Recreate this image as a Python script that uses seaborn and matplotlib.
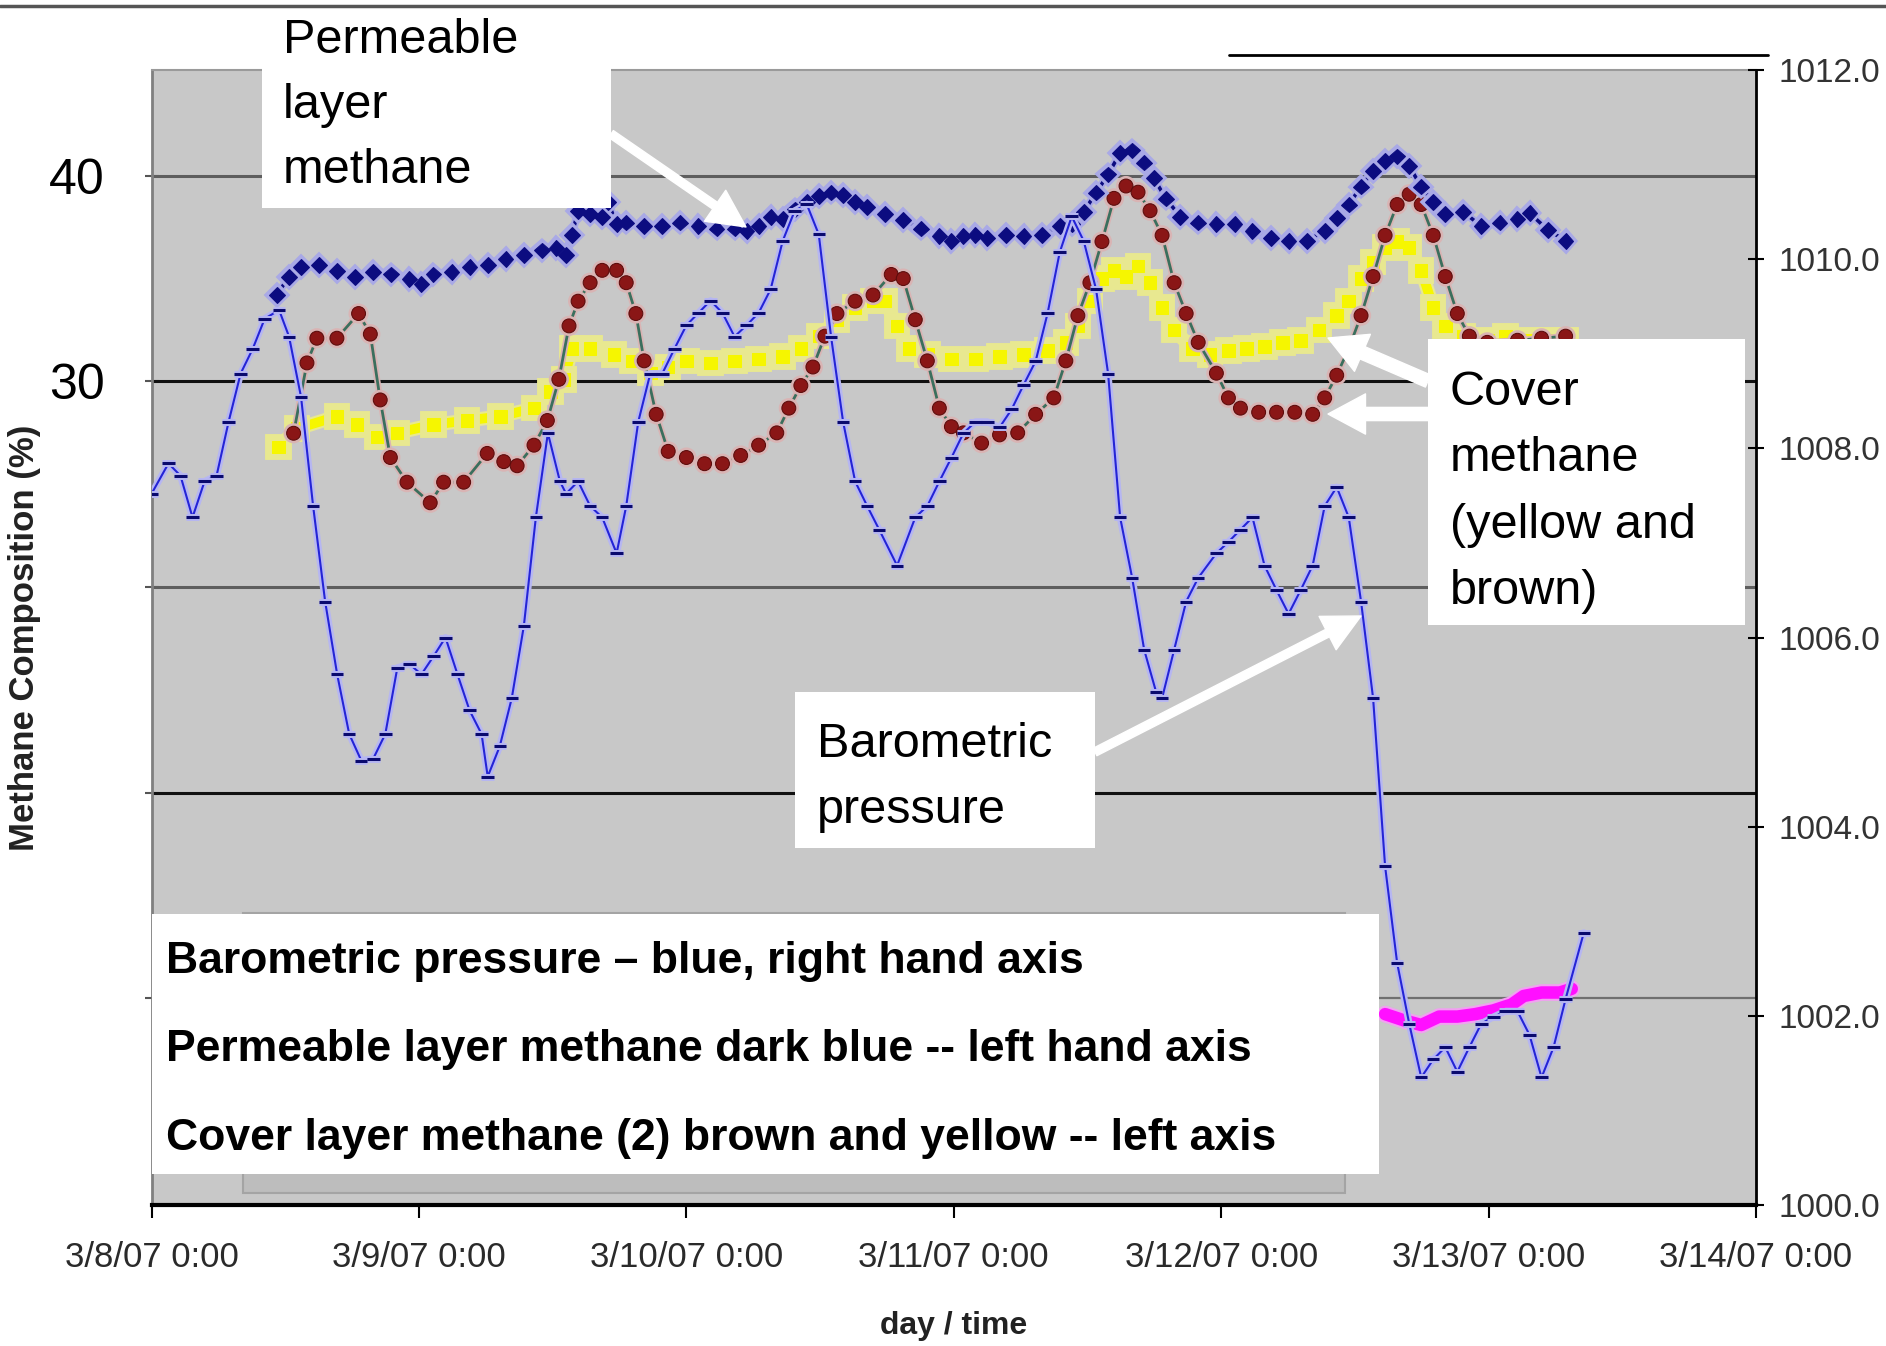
import matplotlib
matplotlib.use('Agg')
import matplotlib.pyplot as plt
import matplotlib.patheffects as pe
from matplotlib.patches import Rectangle, FancyArrowPatch
from matplotlib.lines import Line2D
import pandas as pd
import seaborn as sns

# ---------------- data (day offset from 3/8/07 0:00, value) ----------------
xtick_days = [0, 1, 2, 3, 4, 5, 6]
xtick_labels = ["3/8/07 0:00", "3/9/07 0:00", "3/10/07 0:00", "3/11/07 0:00",
                "3/12/07 0:00", "3/13/07 0:00", "3/14/07 0:00"]
left_ticks = [0, 10, 20, 30, 40]
left_labels = ["", "", "", "30", "40"]
right_ticks = [1000, 1002, 1004, 1006, 1008, 1010, 1012]
right_labels = ["1000.0", "1002.0", "1004.0", "1006.0", "1008.0", "1010.0", "1012.0"]

# Barometric pressure (hPa, right axis)
baro = [(0.000, 1007.52), (0.063, 1007.84), (0.108, 1007.71), (0.153, 1007.27), (0.198, 1007.65),
        (0.243, 1007.71), (0.288, 1008.28), (0.333, 1008.79), (0.378, 1009.05), (0.423, 1009.37),
        (0.477, 1009.46), (0.514, 1009.18), (0.559, 1008.54), (0.604, 1007.39), (0.649, 1006.38),
        (0.694, 1005.61), (0.739, 1004.98), (0.784, 1004.70), (0.829, 1004.72), (0.874, 1004.98),
        (0.919, 1005.68), (0.964, 1005.72), (1.009, 1005.61), (1.054, 1005.80), (1.099, 1006.00),
        (1.144, 1005.61), (1.189, 1005.23), (1.234, 1004.98), (1.257, 1004.53), (1.302, 1004.85),
        (1.347, 1005.36), (1.392, 1006.12), (1.437, 1007.27), (1.482, 1008.16), (1.527, 1007.65),
        (1.550, 1007.52), (1.595, 1007.65), (1.640, 1007.39), (1.685, 1007.27), (1.739, 1006.89),
        (1.775, 1007.39), (1.820, 1008.28), (1.865, 1008.79), (1.910, 1008.79), (1.955, 1009.05),
        (2.000, 1009.30), (2.045, 1009.43), (2.090, 1009.56), (2.135, 1009.43), (2.180, 1009.18),
        (2.225, 1009.30), (2.270, 1009.43), (2.315, 1009.68), (2.360, 1010.19), (2.405, 1010.51),
        (2.450, 1010.58), (2.495, 1010.26), (2.541, 1009.18), (2.586, 1008.28), (2.631, 1007.65),
        (2.676, 1007.39), (2.721, 1007.14), (2.788, 1006.76), (2.856, 1007.27), (2.901, 1007.39),
        (2.946, 1007.65), (2.991, 1007.90), (3.036, 1008.16), (3.081, 1008.28), (3.126, 1008.28),
        (3.171, 1008.22), (3.216, 1008.41), (3.261, 1008.67), (3.306, 1008.92), (3.351, 1009.43),
        (3.396, 1010.07), (3.441, 1010.45), (3.486, 1010.19), (3.532, 1009.68), (3.577, 1008.79),
        (3.622, 1007.27), (3.667, 1006.63), (3.712, 1005.87), (3.757, 1005.42), (3.779, 1005.36),
        (3.824, 1005.87), (3.869, 1006.38), (3.914, 1006.63), (3.982, 1006.89), (4.027, 1007.01),
        (4.072, 1007.14), (4.117, 1007.27), (4.162, 1006.76), (4.207, 1006.50), (4.252, 1006.25),
        (4.297, 1006.50), (4.342, 1006.76), (4.387, 1007.39), (4.432, 1007.59), (4.477, 1007.27),
        (4.523, 1006.38), (4.568, 1005.36), (4.613, 1003.58), (4.658, 1002.56), (4.703, 1001.92),
        (4.748, 1001.35), (4.793, 1001.54), (4.838, 1001.67), (4.883, 1001.41), (4.928, 1001.67),
        (4.973, 1001.92), (5.018, 1001.99), (5.063, 1002.05), (5.108, 1002.05), (5.153, 1001.80),
        (5.198, 1001.35), (5.243, 1001.67), (5.288, 1002.18), (5.356, 1002.88)]

# Permeable layer methane (%, left axis, dark blue)
permeable = [(0.468, 34.21), (0.514, 35.09), (0.559, 35.56), (0.626, 35.67), (0.694, 35.38),
             (0.761, 35.09), (0.829, 35.32), (0.896, 35.20), (0.964, 34.97), (1.009, 34.74),
             (1.054, 35.20), (1.122, 35.32), (1.189, 35.56), (1.257, 35.67), (1.324, 35.96),
             (1.392, 36.14), (1.459, 36.37), (1.514, 36.49), (1.550, 36.14), (1.572, 37.13),
             (1.595, 38.30), (1.640, 38.13), (1.685, 38.01), (1.707, 38.71), (1.739, 37.66),
             (1.775, 37.72), (1.842, 37.54), (1.910, 37.54), (1.977, 37.72), (2.045, 37.54),
             (2.113, 37.43), (2.180, 37.43), (2.225, 37.31), (2.270, 37.54), (2.315, 38.01),
             (2.360, 37.89), (2.405, 38.36), (2.450, 38.71), (2.495, 39.01), (2.541, 39.18),
             (2.586, 39.06), (2.631, 38.71), (2.676, 38.48), (2.743, 38.13), (2.811, 37.84),
             (2.878, 37.43), (2.946, 37.08), (2.991, 36.84), (3.036, 37.08), (3.081, 37.13),
             (3.126, 36.96), (3.194, 37.13), (3.261, 37.08), (3.329, 37.13), (3.396, 37.54),
             (3.441, 37.66), (3.486, 38.25), (3.532, 39.18), (3.577, 40.06), (3.622, 41.11),
             (3.667, 41.23), (3.712, 40.64), (3.748, 39.88), (3.793, 38.89), (3.847, 38.01),
             (3.914, 37.72), (3.982, 37.66), (4.050, 37.66), (4.117, 37.31), (4.185, 36.96),
             (4.252, 36.84), (4.320, 36.84), (4.387, 37.31), (4.432, 37.95), (4.477, 38.60),
             (4.523, 39.47), (4.568, 40.23), (4.613, 40.70), (4.658, 40.94), (4.703, 40.47),
             (4.748, 39.47), (4.793, 38.71), (4.838, 38.13), (4.905, 38.25), (4.973, 37.54),
             (5.041, 37.72), (5.108, 37.89), (5.153, 38.19), (5.221, 37.37), (5.288, 36.84)]

# Cover methane, brown series (%, left axis)
cover_brown = [(0.531, 27.48), (0.581, 30.90), (0.618, 32.10), (0.693, 32.10), (0.774, 33.30),
               (0.818, 32.30), (0.855, 29.10), (0.893, 26.30), (0.955, 25.10), (1.042, 24.10),
               (1.092, 25.10), (1.167, 25.10), (1.255, 26.50), (1.317, 26.10), (1.367, 25.90),
               (1.430, 26.90), (1.480, 28.10), (1.523, 30.10), (1.561, 32.70), (1.595, 33.90),
               (1.640, 34.80), (1.685, 35.40), (1.739, 35.40), (1.775, 34.80), (1.811, 33.30),
               (1.842, 31.00), (1.887, 28.40), (1.932, 26.60), (2.000, 26.30), (2.068, 26.00),
               (2.135, 26.00), (2.203, 26.40), (2.270, 26.90), (2.338, 27.50), (2.383, 28.70),
               (2.428, 29.80), (2.473, 30.70), (2.518, 32.20), (2.563, 33.30), (2.631, 33.90),
               (2.698, 34.20), (2.766, 35.20), (2.811, 35.00), (2.856, 33.00), (2.901, 31.00),
               (2.946, 28.70), (2.991, 27.80), (3.036, 27.50), (3.104, 27.00), (3.171, 27.40),
               (3.239, 27.50), (3.306, 28.40), (3.374, 29.20), (3.419, 31.00), (3.464, 33.20),
               (3.509, 34.80), (3.554, 36.80), (3.599, 38.90), (3.644, 39.50), (3.689, 39.20),
               (3.734, 38.30), (3.779, 37.10), (3.824, 34.80), (3.869, 33.30), (3.914, 31.90),
               (3.982, 30.40), (4.027, 29.20), (4.072, 28.70), (4.140, 28.50), (4.207, 28.50),
               (4.275, 28.50), (4.342, 28.40), (4.387, 29.20), (4.432, 30.30), (4.477, 31.60),
               (4.523, 33.20), (4.568, 35.10), (4.613, 37.10), (4.658, 38.60), (4.703, 39.10),
               (4.748, 38.60), (4.793, 37.10), (4.838, 35.10), (4.883, 33.30), (4.928, 32.20),
               (4.995, 31.90), (5.108, 32.00), (5.198, 32.10), (5.288, 32.20)]

# Cover methane, yellow series (%, left axis)
cover_yellow = [(0.475, 26.80), (0.543, 27.70), (0.693, 28.30), (0.768, 27.90), (0.843, 27.30),
                (0.918, 27.50), (1.055, 27.90), (1.180, 28.10), (1.305, 28.30), (1.430, 28.70),
                (1.492, 29.50), (1.542, 30.10), (1.572, 31.60), (1.640, 31.60), (1.730, 31.30),
                (1.797, 31.00), (1.865, 30.40), (1.932, 30.70), (2.000, 31.00), (2.090, 30.90),
                (2.180, 31.00), (2.270, 31.10), (2.360, 31.20), (2.428, 31.60), (2.495, 32.20),
                (2.563, 33.00), (2.631, 33.60), (2.698, 33.90), (2.743, 33.90), (2.788, 32.70),
                (2.833, 31.60), (2.901, 31.30), (2.991, 31.10), (3.081, 31.10), (3.171, 31.20),
                (3.261, 31.30), (3.351, 31.50), (3.419, 31.90), (3.464, 32.70), (3.509, 33.90),
                (3.554, 35.00), (3.599, 35.40), (3.644, 35.10), (3.689, 35.60), (3.734, 34.80),
                (3.779, 33.60), (3.824, 32.50), (3.892, 31.60), (3.959, 31.30), (4.027, 31.50),
                (4.095, 31.60), (4.162, 31.70), (4.230, 31.90), (4.297, 32.00), (4.365, 32.50),
                (4.432, 33.20), (4.477, 33.90), (4.523, 35.00), (4.568, 35.80), (4.613, 36.50),
                (4.658, 36.80), (4.703, 36.50), (4.748, 35.40), (4.793, 33.60), (4.838, 32.70),
                (4.905, 32.20), (4.995, 32.00), (5.063, 32.20), (5.153, 32.00), (5.243, 32.00),
                (5.288, 32.00)]

# Magenta series (left axis)
magenta = [(4.613, -0.76), (4.680, -1.05), (4.748, -1.29), (4.815, -0.88), (4.883, -0.88),
           (4.950, -0.76), (5.018, -0.58), (5.086, -0.29), (5.131, 0.12), (5.198, 0.29),
           (5.266, 0.29), (5.311, 0.47)]


def frame(pairs):
    return pd.DataFrame(pairs, columns=["day", "value"])


# ---------------- style ----------------
sns.set_theme(style="white")
plt.rcParams['font.family'] = ['Liberation Sans', 'DejaVu Sans']

W, H = 1886, 1346
fig = plt.figure(figsize=(W / 100, H / 100), dpi=100, facecolor='white')


def fx(x):
    return x / W


def fy(y):
    return 1 - y / H


L, R, T, B = 151.6, 1756.0, 69.8, 1205.2
ax = fig.add_axes([fx(L), fy(B), (R - L) / W, (B - T) / H])
ax.set_facecolor('#c8c8c8')
ax2 = ax.twinx()

# horizontal gridlines (left axis units)
for yv, col, lw in [(40, '#5e5e5e', 2.2), (30, '#111111', 2.2), (20, '#5e5e5e', 2.2),
                    (10, '#111111', 2.2), (0, '#707070', 1.6)]:
    ax.axhline(yv, color=col, lw=lw, zorder=1)

# series
df = frame(cover_yellow)
sns.lineplot(data=df, x="day", y="value", ax=ax, color='#f6f600', linewidth=7,
             marker='s', markersize=9, markeredgecolor='#f6f600',
             path_effects=[pe.Stroke(linewidth=10, foreground='#e8e890'), pe.Normal()], zorder=3)

df = frame(cover_brown)
sns.lineplot(data=df, x="day", y="value", ax=ax, color='#3b6f5d', linewidth=2,
             marker='o', markersize=10, markerfacecolor='#8a1616', markeredgecolor='#5c0c0c',
             path_effects=[pe.Stroke(linewidth=4.5, foreground='#d9b4b4'), pe.Normal()], zorder=4)

df = frame(permeable)
sns.lineplot(data=df, x="day", y="value", ax=ax, color='#0c0c80', linewidth=2.6,
             marker='D', markersize=8, markeredgecolor='#0c0c80',
             path_effects=[pe.Stroke(linewidth=5.5, foreground='#a9a9e6'), pe.Normal()], zorder=5)

df = frame(magenta)
sns.lineplot(data=df, x="day", y="value", ax=ax, color='#ff10ff', linewidth=9,
             path_effects=[pe.Stroke(linewidth=12, foreground='#f2a0f2'), pe.Normal()], zorder=3)

df = frame(baro)
sns.lineplot(data=df, x="day", y="value", ax=ax2, color='#2424d6', linewidth=1.5,
             marker='_', markersize=9, markeredgewidth=2.2, markeredgecolor='#0a0a6e',
             path_effects=[pe.Stroke(linewidth=5, foreground='#b6b6f2'), pe.Normal()], zorder=3)

# axes limits and ticks
ax.set_xlim(0, 6)
ax.set_ylim(-10.05, 45.15)
ax2.set_ylim(1000, 1012)
ax.set_xticks(xtick_days)
ax.set_xticklabels(xtick_labels)
ax.set_yticks(left_ticks)
ax.set_yticklabels(left_labels)
ax2.set_yticks(right_ticks)
ax2.set_yticklabels(right_labels)

ax.tick_params(axis='x', direction='out', length=9, width=1.5, color='black',
               labelsize=25, pad=17, labelcolor='#2a2a2a', bottom=True)
ax.tick_params(axis='y', direction='inout', length=10, width=1.5, color='#555555',
               labelsize=36, pad=29, labelcolor='black', left=True)
ax2.tick_params(axis='y', direction='inout', length=12, width=1.5, color='black',
                labelsize=24, pad=10, labelcolor='#333333', right=True)

for s in ['left', 'top', 'bottom']:
    ax2.spines[s].set_visible(False)
ax2.spines['right'].set_color('black')
ax2.spines['right'].set_linewidth(2)
ax.spines['right'].set_visible(False)
ax.spines['left'].set_color('#808080')
ax.spines['left'].set_linewidth(2)
ax.spines['bottom'].set_color('black')
ax.spines['bottom'].set_linewidth(3)
ax.spines['top'].set_color('#9a9a9a')
ax.spines['top'].set_linewidth(1.5)

ax.set_xlabel('day / time', fontsize=23, fontweight='bold', color='#222222')
ax.xaxis.set_label_coords(0.5, -0.106)
ax.xaxis.label.set_va('center')
ax.set_ylabel('Methane Composition (%)', fontsize=25, fontweight='bold', color='#222222')
ax.yaxis.set_label_coords(-0.079, 0.5)
ax.yaxis.label.set_va('center')
ax2.set_ylabel('')

# ---------------- figure-level decorations ----------------
fig.add_artist(Line2D([0, 1], [fy(6), fy(6)], color='#555555', lw=2.5, zorder=8))
fig.add_artist(Line2D([fx(1229), fx(1768)], [fy(55), fy(55)], color='black', lw=2, zorder=8))


def box(x0, y0, x1, y1, fc='white', ec='none', lw=0, z=5):
    fig.add_artist(Rectangle((fx(x0), fy(y1)), (x1 - x0) / W, (y1 - y0) / H,
                             transform=fig.transFigure, facecolor=fc, edgecolor=ec,
                             linewidth=lw, zorder=z))


def arrow(x0, y0, x1, y1, style):
    fig.add_artist(FancyArrowPatch((fx(x0), fy(y0)), (fx(x1), fy(y1)),
                                   transform=fig.transFigure, arrowstyle=style,
                                   mutation_scale=10, color='white', shrinkA=0, shrinkB=0,
                                   zorder=7))


# original legend block partly hidden
box(243, 913, 1345, 1193, fc='#bdbdbd', ec='#a4a4a4', lw=1.5, z=4)

# annotation boxes
box(262, 10, 611, 208)
box(1428, 339, 1745, 625)
box(795, 692, 1095, 848)
box(151.6, 914, 1379, 1174)

TXT = dict(fontsize=35, color='black', ha='left', va='baseline', zorder=6)
for s, yb in [("Permeable", 53), ("layer", 118), ("methane", 183)]:
    fig.text(fx(283), fy(yb), s, **TXT)
for s, yb in [("Cover", 405), ("methane", 471), ("(yellow and", 538), ("brown)", 604)]:
    fig.text(fx(1450), fy(yb), s, **TXT)
for s, yb in [("Barometric", 757), ("pressure", 823)]:
    fig.text(fx(817), fy(yb), s, **TXT)

BTXT = dict(fontsize=32, fontweight='bold', color='black', ha='left', va='baseline', zorder=6)
for s, yb in [("Barometric pressure \u2013 blue, right hand axis", 973),
              ("Permeable layer methane dark blue -- left hand axis", 1061),
              ("Cover layer methane (2) brown and yellow -- left axis", 1150)]:
    fig.text(fx(166), fy(yb), s, **BTXT)

thin = 'simple,head_length=2.7,head_width=2.7,tail_width=0.6'
thick = 'simple,head_length=2.7,head_width=2.9,tail_width=0.95'
arrow(611, 134, 746, 227, thin)
arrow(1428, 381, 1328, 338, thick)
arrow(1428, 414, 1328, 414, thick)
arrow(1095, 752, 1361, 616, thin)

fig.savefig('out.png', dpi=100, facecolor='white')
